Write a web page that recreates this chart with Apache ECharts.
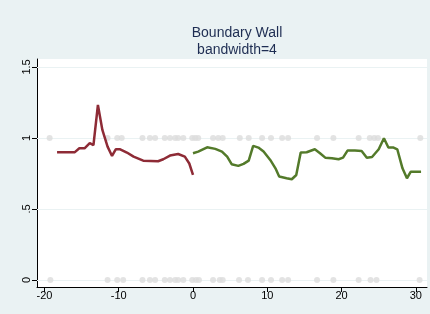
<!DOCTYPE html>
<html>
<head>
<meta charset="utf-8">
<script src="https://cdn.jsdelivr.net/npm/echarts@6/dist/echarts.min.js"></script>
<style>
  html, body { margin: 0; padding: 0; background: #eaf2f3; }
  #chart { width: 430px; height: 314px; }
</style>
</head>
<body>
<div id="chart"></div>
<script>
// raw observations (outcome is 0 or 1)
var xOnes = [-19.3, -11.5, -10.2, -9.6, -6.8, -5.8, -5.1, -3.8, -3.1, -2.4, -2.0, -1.3, -0.1, 0.3, 0.7,
  2.7, 3.4, 4.0, 6.3, 7.5, 9.3, 10.5, 12.0, 12.8, 16.7, 18.9, 22.3, 23.8, 24.4, 24.9, 30.6];
var xZeros = [-19.2, -11.5, -10.2, -9.4, -6.8, -5.8, -5.1, -3.8, -3.1, -2.4, -2.0, -1.3, -0.1, 0.4, 0.8,
  2.7, 3.6, 4.0, 6.2, 7.4, 9.3, 10.5, 12.0, 12.8, 16.7, 18.9, 22.3, 23.9, 24.7, 30.5];

// local fit, left of cutoff
var leftX = [-18.3, -15.9, -15.3, -14.6, -13.9, -13.4, -12.8, -12.2, -11.5, -10.9, -10.4, -9.8, -8.9, -8.0,
  -6.7, -4.7, -4.0, -3.1, -2.0, -1.1, -0.5, 0];
var leftY = [0.90, 0.90, 0.927, 0.927, 0.963, 0.95, 1.232, 1.056, 0.939, 0.873, 0.92, 0.92, 0.897, 0.868,
  0.84, 0.836, 0.85, 0.876, 0.887, 0.868, 0.82, 0.74];

// local fit, right of cutoff
var rightX = [0, 0.7, 1.9, 3.0, 3.9, 4.6, 5.2, 6.1, 6.8, 7.5, 8.1, 8.8, 9.5, 10.4, 11.1, 11.6, 12.6, 13.3,
  13.9, 14.5, 15.3, 16.4, 17.1, 17.8, 18.7, 19.6, 20.2, 20.8, 21.8, 22.7, 23.4, 24.1, 25.0, 25.7, 26.3,
  27.0, 27.5, 28.2, 28.8, 29.3, 30.7];
var rightY = [0.892, 0.904, 0.934, 0.923, 0.904, 0.868, 0.815, 0.803, 0.817, 0.84, 0.944, 0.932, 0.904,
  0.845, 0.786, 0.728, 0.716, 0.709, 0.739, 0.897, 0.899, 0.92, 0.892, 0.861, 0.857, 0.85, 0.861, 0.911,
  0.911, 0.908, 0.861, 0.866, 0.92, 0.998, 0.932, 0.932, 0.92, 0.786, 0.716, 0.761, 0.761];

var xTicks = [-20, -10, 0, 10, 20, 30];
var yTicks = [0, 0.5, 1, 1.5];

function zip(xs, ys) {
  return xs.map(function (x, i) { return [x, ys[i]]; });
}

var chart = echarts.init(document.getElementById("chart"));

var option = {
  backgroundColor: "#eaf2f3",
  animation: false,
  title: {
    text: "Boundary Wall\nbandwidth=4",
    left: 232,
    textAlign: "center",
    top: 20,
    textStyle: {
      fontFamily: "Liberation Sans",
      fontWeight: "normal",
      fontSize: 14,
      lineHeight: 17,
      color: "#1e2d52"
    }
  },
  grid: {
    left: 37, right: 3, top: 59, bottom: 27,
    show: true, backgroundColor: "#ffffff", borderWidth: 0
  },
  xAxis: {
    type: "value",
    min: -21, max: 31.5,
    splitLine: { show: false },
    axisLine: { onZero: false, lineStyle: { color: "#000", width: 1 } },
    axisTick: { customValues: xTicks, length: 5, lineStyle: { color: "#000" } },
    axisLabel: {
      customValues: xTicks,
      color: "#000",
      fontFamily: "Liberation Sans",
      fontSize: 11,
      margin: 3
    }
  },
  yAxis: {
    type: "value",
    min: -0.05, max: 1.556,
    splitLine: { show: false },
    axisLine: { show: true, onZero: false, lineStyle: { color: "#000", width: 1 } },
    axisTick: { customValues: yTicks, length: 5, lineStyle: { color: "#000" } },
    axisLabel: {
      customValues: yTicks,
      rotate: 90,
      color: "#000",
      fontFamily: "Liberation Sans",
      fontSize: 11,
      margin: 5,
      formatter: function (v) {
        return String(v).replace(/^0\./, ".");
      }
    }
  },
  series: [
    {
      type: "scatter",
      data: xOnes.map(function (x) { return [x, 1]; }).concat(xZeros.map(function (x) { return [x, 0]; })),
      symbolSize: 6,
      itemStyle: { color: "#dcdcdc" },
      z: 3,
      markLine: {
        silent: true,
        symbol: "none",
        label: { show: false },
        lineStyle: { color: "#eaf2f3", width: 1, type: "solid" },
        data: yTicks.map(function (v) { return { yAxis: v }; }),
        z: 1
      }
    },
    {
      type: "line",
      data: zip(leftX, leftY),
      showSymbol: false,
      lineStyle: { color: "#8e2b36", width: 2.5 },
      z: 5
    },
    {
      type: "line",
      data: zip(rightX, rightY),
      showSymbol: false,
      lineStyle: { color: "#537a2a", width: 2.5 },
      z: 5
    }
  ]
};

chart.setOption(option);
</script>
</body>
</html>
